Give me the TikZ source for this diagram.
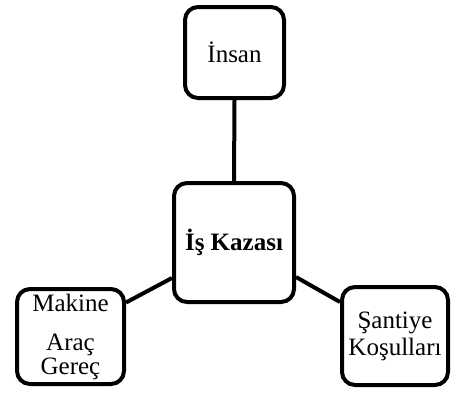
\documentclass[tikz,border=0pt]{standalone}
\usepackage{fontspec}
\setmainfont{Liberation Serif}
\usepackage{tikz}

\begin{document}
\begin{tikzpicture}[x=1pt,y=1pt,
            kutu/.style={draw, line width=4pt, rounded corners=13pt, align=center, inner sep=0pt, font=\fontsize{25}{27}\selectfont},
            bag/.style={line width=4pt}]
            \useasboundingbox (0,0) rectangle (452,-392);
            \node[kutu, minimum width=99, minimum height=91] (insan) at (234.5,-52.5) {İnsan};
            \node[kutu, minimum width=120, minimum height=119] (kaza) at (234,-242.5) {\textbf{İş Kazası}};
            \node[kutu, minimum width=107, minimum height=95] (makine) at (70.5,-336.5) {Makine\\[12pt]Araç\\[-3pt]Gereç};
            \node[kutu, minimum width=106, minimum height=98] (santiye) at (395,-336) {Şantiye\\Koşulları};
            \draw[bag] (insan.south) -- (kaza.north);
            \draw[bag] ([yshift=34pt]makine.east) -- ([yshift=-35.5pt]kaza.west);
            \draw[bag] ([yshift=-34.5pt]kaza.east) -- ([yshift=34pt]santiye.west);
        \end{tikzpicture}
\end{document}
